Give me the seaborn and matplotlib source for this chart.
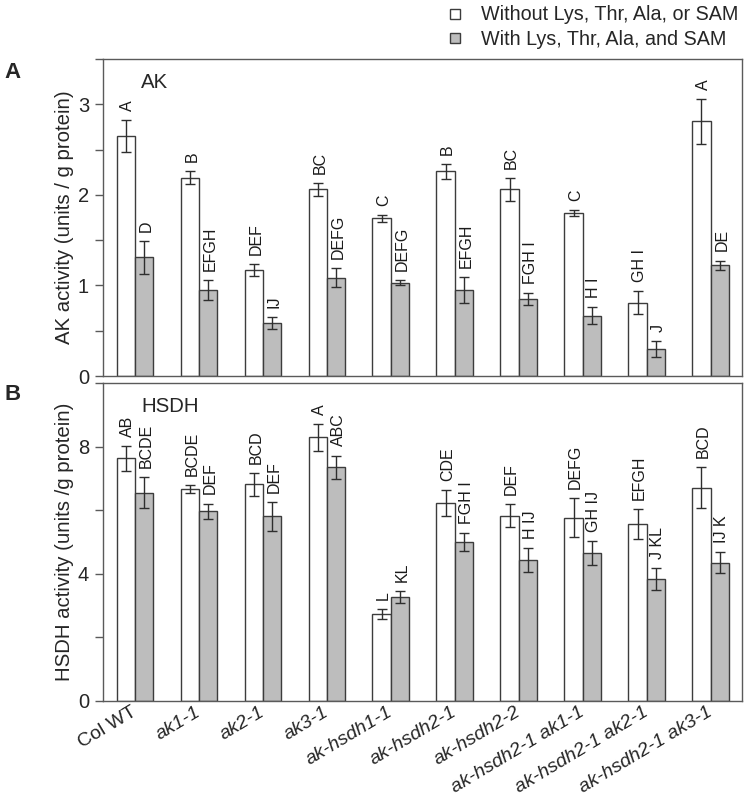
import matplotlib
matplotlib.use("Agg")
import matplotlib.pyplot as plt
from matplotlib.lines import Line2D
from matplotlib.ticker import MultipleLocator
import seaborn as sns
import pandas as pd

genotypes = ["Col WT", "ak1-1", "ak2-1", "ak3-1", "ak-hsdh1-1", "ak-hsdh2-1",
             "ak-hsdh2-2", "ak-hsdh2-1 ak1-1", "ak-hsdh2-1 ak2-1", "ak-hsdh2-1 ak3-1"]
treatments = ["Without Lys, Thr, Ala, or SAM", "With Lys, Thr, Ala, and SAM"]

ak_without = [2.65, 2.19, 1.17, 2.06, 1.74, 2.26, 2.06, 1.80, 0.81, 2.81]
ak_without_err = [0.18, 0.07, 0.07, 0.07, 0.04, 0.08, 0.13, 0.03, 0.13, 0.25]
ak_with = [1.31, 0.945, 0.58, 1.085, 1.03, 0.95, 0.85, 0.665, 0.295, 1.225]
ak_with_err = [0.18, 0.11, 0.066, 0.105, 0.03, 0.14, 0.065, 0.095, 0.09, 0.05]
ak_without_letters = ["A", "B", "DEF", "BC", "C", "B", "BC", "C", "GH I", "A"]
ak_with_letters = ["D", "EFGH", "IJ", "DEFG", "DEFG", "EFGH", "FGH I", "H I", "J", "DE"]

hsdh_without = [7.63, 6.67, 6.82, 8.29, 2.74, 6.23, 5.83, 5.77, 5.56, 6.71]
hsdh_without_err = [0.39, 0.13, 0.36, 0.42, 0.15, 0.40, 0.37, 0.61, 0.47, 0.64]
hsdh_with = [6.55, 5.97, 5.81, 7.35, 3.27, 4.99, 4.44, 4.66, 3.83, 4.35]
hsdh_with_err = [0.48, 0.24, 0.46, 0.37, 0.20, 0.28, 0.37, 0.38, 0.34, 0.32]
hsdh_without_letters = ["AB", "BCDE", "BCD", "A", "L", "CDE", "DEF", "DEFG", "EFGH", "BCD"]
hsdh_with_letters = ["BCDE", "DEF", "DEF", "ABC", "KL", "FGH I", "H IJ", "GH IJ", "J KL", "IJ K"]

sns.set_style("ticks")
plt.rcParams["font.family"] = ["Liberation Sans", "DejaVu Sans"]

FILL = ["white", "#bdbdbd"]
EDGE = "#3c3c3c"
SPINE = "#5a5a5a"

fig = plt.figure(figsize=(7.47, 8.0), dpi=100)
axA = fig.add_axes([103 / 747, (800 - 376) / 800, 639 / 747, 317 / 800])
axB = fig.add_axes([103 / 747, (800 - 701) / 800, 639 / 747, 318 / 800])


def panel(ax, v0, e0, l0, v1, e1, l1, ylim, major, minor, ylabel, title):
    df = pd.DataFrame({
        "genotype": genotypes * 2,
        "treatment": [treatments[0]] * len(genotypes) + [treatments[1]] * len(genotypes),
        "value": list(v0) + list(v1),
    })
    sns.barplot(data=df, x="genotype", y="value", hue="treatment",
                order=genotypes, hue_order=treatments, palette=FILL,
                edgecolor=EDGE, linewidth=1.0, width=0.574, gap=0,
                errorbar=None, legend=False, ax=ax, zorder=2)
    for cont, vals, errs, labs in zip(ax.containers, [v0, v1], [e0, e1], [l0, l1]):
        for bar, v, e, lab in zip(cont, vals, errs, labs):
            x = bar.get_x() + bar.get_width() / 2
            ax.errorbar(x, v, yerr=e, fmt="none", ecolor="#2e2e2e",
                        elinewidth=1.0, capsize=3.5, capthick=1.0, zorder=3)
            ax.annotate(lab, xy=(x, v + e), xytext=(1.5, 6.5),
                        textcoords="offset points", rotation=90,
                        ha="center", va="bottom", fontsize=11.5, color="#1a1a1a")
    ax.set_xlim(-0.5, 9.49)
    ax.set_ylim(*ylim)
    ax.yaxis.set_major_locator(MultipleLocator(major))
    ax.yaxis.set_minor_locator(MultipleLocator(minor))
    ax.tick_params(axis="y", which="both", direction="out", length=6,
                   width=1, color=SPINE, labelsize=14.5, pad=4)
    ax.set_ylabel(ylabel, fontsize=14.7, labelpad=3)
    ax.set_xlabel("")
    for s in ax.spines.values():
        s.set_visible(True)
        s.set_color(SPINE)
        s.set_linewidth(1.0)
    ax.text(0.06, 0.955, title, transform=ax.transAxes, fontsize=14.7,
            ha="left", va="top")


panel(axA, ak_without, ak_without_err, ak_without_letters,
      ak_with, ak_with_err, ak_with_letters,
      (0, 3.5), 1, 0.5, "AK activity (units / g protein)", "AK")
panel(axB, hsdh_without, hsdh_without_err, hsdh_without_letters,
      hsdh_with, hsdh_with_err, hsdh_with_letters,
      (0, 10), 4, 2, "HSDH activity (units /g protein)", "HSDH")

axA.tick_params(axis="x", length=0, labelbottom=False)
axB.tick_params(axis="x", length=0, pad=7)
axB.set_xticks(range(len(genotypes)))
axB.set_xticklabels(genotypes, rotation=31, ha="right", va="center",
                    rotation_mode="anchor", fontsize=14)
for i, t in enumerate(axB.get_xticklabels()):
    if i > 0:
        t.set_fontstyle("italic")

fig.align_ylabels([axA, axB])

fig.text(0.006, (800 - 73) / 800, "A", fontsize=16, fontweight="bold", va="center")
fig.text(0.006, (800 - 394) / 800, "B", fontsize=16, fontweight="bold", va="center")

handles = [Line2D([], [], linestyle="none", marker="s", markersize=7.5,
                  markerfacecolor=FILL[i], markeredgecolor=EDGE, markeredgewidth=1)
           for i in range(2)]
fig.legend(handles, treatments, loc="upper right", bbox_to_anchor=(1.004, 1.008),
           frameon=False, fontsize=14.2, handlelength=0.8, handletextpad=0.9,
           labelspacing=0.3, borderaxespad=0.2)

fig.savefig("out.png", dpi=100)
